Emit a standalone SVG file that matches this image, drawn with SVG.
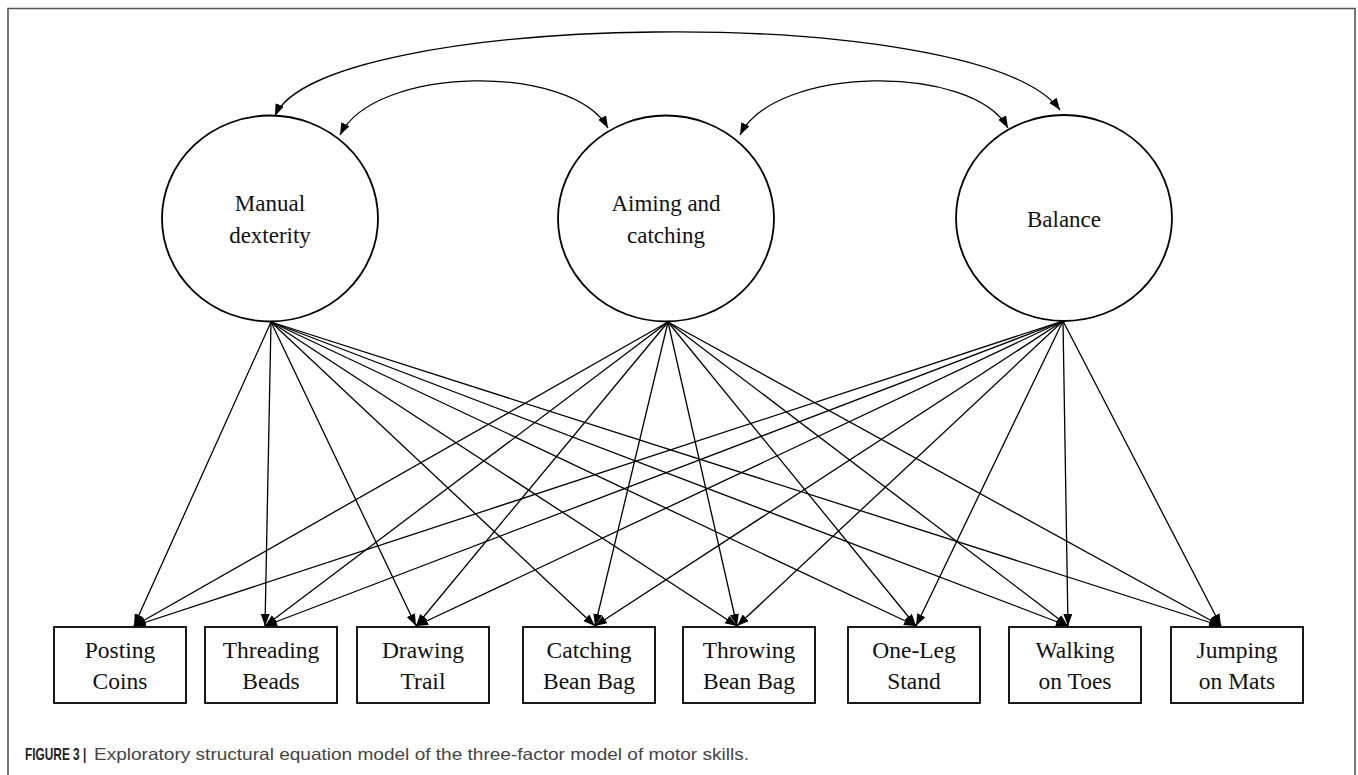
<svg xmlns="http://www.w3.org/2000/svg" width="1358" height="775" viewBox="0 0 1358 775">
<style>
.frame{fill:none;stroke:#555;stroke-width:1.6}
.lat{fill:#fff;stroke:#000;stroke-width:1.8}
.box{fill:#fff;stroke:#000;stroke-width:1.8}
.t{font-family:"Liberation Serif","Times New Roman",serif;fill:#111;text-anchor:middle}
.tc{font-size:23px}
.tb{font-size:23.5px}
.ld{fill:none;stroke:#000;stroke-width:1.3;marker-end:url(#ah)}
.cv{fill:none;stroke:#000;stroke-width:1.3;marker-start:url(#ah2);marker-end:url(#ah)}
.cap{font-family:"Liberation Sans",Arial,sans-serif;font-size:16.5px}
</style>
<defs>
<marker id="ah" markerUnits="userSpaceOnUse" markerWidth="13" markerHeight="10" refX="12" refY="4.5" orient="auto">
<path d="M0,0 L12,4.5 L0,9 z" fill="#000"/>
</marker>
<marker id="ah2" markerUnits="userSpaceOnUse" markerWidth="13" markerHeight="10" refX="12" refY="4.5" orient="auto-start-reverse">
<path d="M0,0 L12,4.5 L0,9 z" fill="#000"/>
</marker>
</defs>
<rect width="1358" height="775" fill="#fff"/>
<path class="frame" d="M8,775 V8.5 H1355 V775"/>

<g id="connectors">
<path class="cv" d="M275,116 C320,10 980,0 1060,110"/>
<path class="cv" d="M340,135 C375,65 572,63 608,128"/>
<path class="cv" d="M740,135 C775,65 972,63 1008,128"/>

<line class="ld" x1="271" y1="322" x2="134" y2="626"/>
<line class="ld" x1="271" y1="322" x2="265" y2="626"/>
<line class="ld" x1="271" y1="322" x2="416" y2="626"/>
<line class="ld" x1="271" y1="322" x2="595" y2="626"/>
<line class="ld" x1="271" y1="322" x2="737" y2="626"/>
<line class="ld" x1="271" y1="322" x2="916" y2="626"/>
<line class="ld" x1="271" y1="322" x2="1068" y2="626"/>
<line class="ld" x1="271" y1="322" x2="1221" y2="626"/>

<line class="ld" x1="668" y1="322" x2="134" y2="626"/>
<line class="ld" x1="668" y1="322" x2="265" y2="626"/>
<line class="ld" x1="668" y1="322" x2="416" y2="626"/>
<line class="ld" x1="668" y1="322" x2="595" y2="626"/>
<line class="ld" x1="668" y1="322" x2="737" y2="626"/>
<line class="ld" x1="668" y1="322" x2="916" y2="626"/>
<line class="ld" x1="668" y1="322" x2="1068" y2="626"/>
<line class="ld" x1="668" y1="322" x2="1221" y2="626"/>

<line class="ld" x1="1063" y1="321" x2="134" y2="626"/>
<line class="ld" x1="1063" y1="321" x2="265" y2="626"/>
<line class="ld" x1="1063" y1="321" x2="416" y2="626"/>
<line class="ld" x1="1063" y1="321" x2="595" y2="626"/>
<line class="ld" x1="1063" y1="321" x2="737" y2="626"/>
<line class="ld" x1="1063" y1="321" x2="916" y2="626"/>
<line class="ld" x1="1063" y1="321" x2="1068" y2="626"/>
<line class="ld" x1="1063" y1="321" x2="1221" y2="626"/>
</g>

<g id="manual">
<ellipse class="lat" cx="270" cy="218.5" rx="108" ry="103"/>
<text class="t tc" x="270" y="211">Manual</text>
<text class="t tc" x="270" y="243">dexterity</text>
</g>
<g id="aiming">
<ellipse class="lat" cx="666" cy="218.5" rx="108" ry="103"/>
<text class="t tc" x="666" y="211">Aiming and</text>
<text class="t tc" x="666" y="243">catching</text>
</g>
<g id="balance">
<ellipse class="lat" cx="1064" cy="218" rx="108" ry="103"/>
<text class="t tc" x="1064" y="227">Balance</text>
</g>

<g id="posting">
<rect class="box" x="54" y="627" width="132" height="76"/>
<text class="t tb" x="120" y="658">Posting</text>
<text class="t tb" x="120" y="689">Coins</text>
</g>
<g id="threading">
<rect class="box" x="205" y="627" width="132" height="76"/>
<text class="t tb" x="271" y="658">Threading</text>
<text class="t tb" x="271" y="689">Beads</text>
</g>
<g id="drawing">
<rect class="box" x="357" y="627" width="132" height="76"/>
<text class="t tb" x="423" y="658">Drawing</text>
<text class="t tb" x="423" y="689">Trail</text>
</g>
<g id="catching">
<rect class="box" x="523" y="627" width="132" height="76"/>
<text class="t tb" x="589" y="658">Catching</text>
<text class="t tb" x="589" y="689">Bean Bag</text>
</g>
<g id="throwing">
<rect class="box" x="683" y="627" width="132" height="76"/>
<text class="t tb" x="749" y="658">Throwing</text>
<text class="t tb" x="749" y="689">Bean Bag</text>
</g>
<g id="oneleg">
<rect class="box" x="848" y="627" width="132" height="76"/>
<text class="t tb" x="914" y="658">One-Leg</text>
<text class="t tb" x="914" y="689">Stand</text>
</g>
<g id="walking">
<rect class="box" x="1009" y="627" width="132" height="76"/>
<text class="t tb" x="1075" y="658">Walking</text>
<text class="t tb" x="1075" y="689">on Toes</text>
</g>
<g id="jumping">
<rect class="box" x="1171" y="627" width="132" height="76"/>
<text class="t tb" x="1237" y="658">Jumping</text>
<text class="t tb" x="1237" y="689">on Mats</text>
</g>

<g id="caption">
<text class="cap" transform="translate(25,760) scale(0.72,1)" x="0" y="0" font-weight="bold" fill="#222">FIGURE 3 |</text>
<text class="cap" x="94" y="760" fill="#444" textLength="655" lengthAdjust="spacingAndGlyphs">Exploratory structural equation model of the three-factor model of motor skills.</text>
</g>
</svg>
